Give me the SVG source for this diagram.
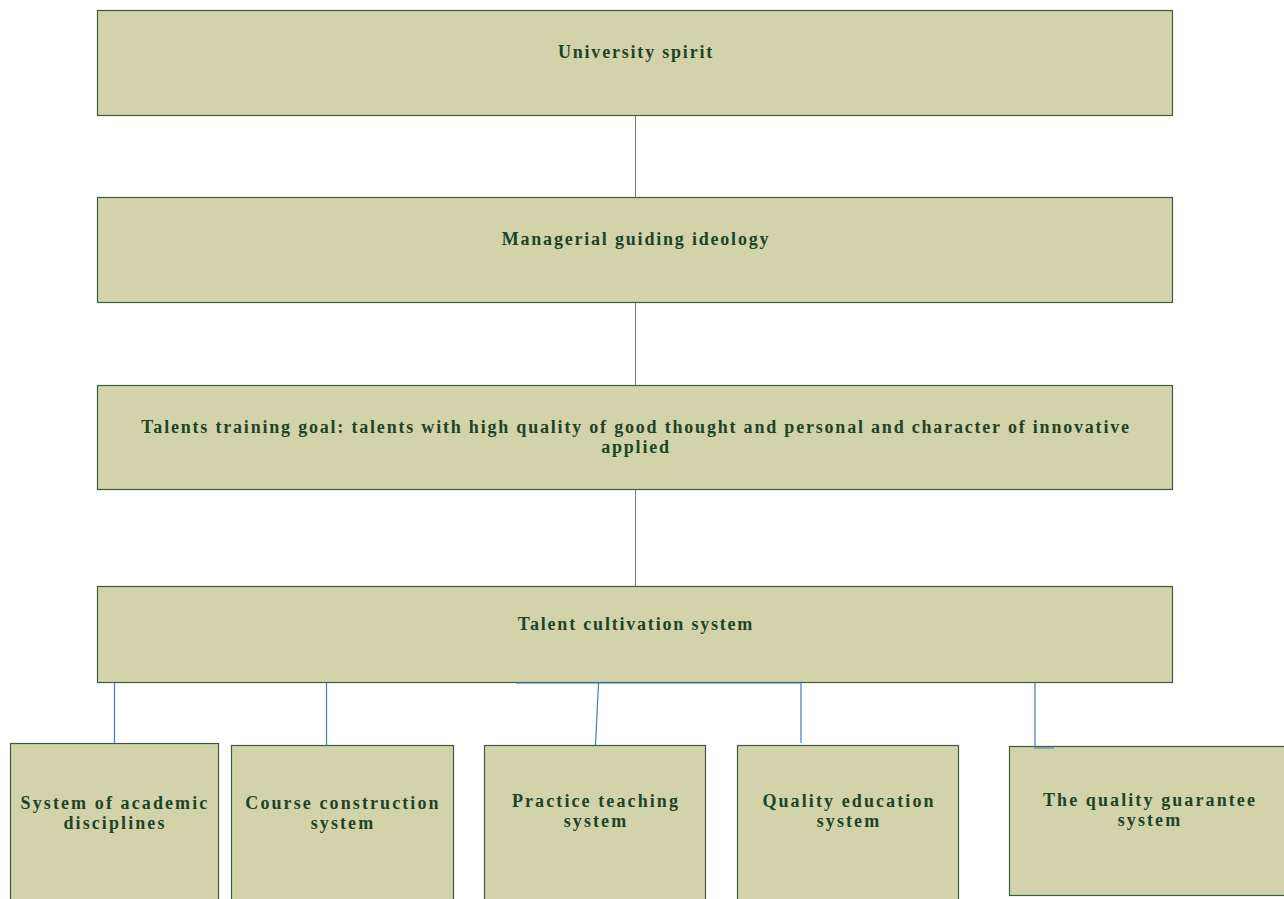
<svg xmlns="http://www.w3.org/2000/svg" width="1284" height="899" viewBox="0 0 1284 899">
<style>
.box{fill:#d2d3ab;stroke:#3d5c3d;stroke-width:1.2}
.t{font-family:"Liberation Serif",serif;font-weight:bold;font-size:18px;fill:#1e4427;text-anchor:middle;letter-spacing:1.8px}
.s{letter-spacing:2.1px}
.g{stroke:#7a7a7a;stroke-width:1;fill:none}
.b{stroke:#4a78c0;stroke-width:1.2;fill:none}
</style>
<rect width="1284" height="899" fill="#ffffff"/>
<g id="n1"><rect class="box" x="97.5" y="10.5" width="1075" height="105"/><text class="t" x="636" y="58">University spirit</text></g>
<g id="n2"><rect class="box" x="97.5" y="197.5" width="1075" height="105"/><text class="t" x="636" y="245">Managerial guiding ideology</text></g>
<g id="n3"><rect class="box" x="97.5" y="385.5" width="1075" height="104"/><text class="t" x="636" y="433">Talents training goal: talents with high quality of good thought and personal and character of innovative</text><text class="t" x="636" y="453">applied</text></g>
<g id="n4"><rect class="box" x="97.5" y="586.5" width="1075" height="96"/><text class="t" x="636" y="630">Talent cultivation system</text></g>
<g id="n5"><rect class="box" x="10.5" y="743.5" width="208" height="160"/><text class="t s" x="115" y="809">System of academic</text><text class="t s" x="115" y="829">disciplines</text></g>
<g id="n6"><rect class="box" x="231.5" y="745.5" width="222" height="160"/><text class="t s" x="343" y="809">Course construction</text><text class="t s" x="343" y="829">system</text></g>
<g id="n7"><rect class="box" x="484.5" y="745.5" width="221" height="160"/><text class="t s" x="596" y="807">Practice teaching</text><text class="t s" x="596" y="827">system</text></g>
<g id="n8"><rect class="box" x="737.5" y="745.5" width="221" height="160"/><text class="t s" x="849" y="807">Quality education</text><text class="t s" x="849" y="827">system</text></g>
<g id="n9"><rect class="box" x="1009.5" y="746.5" width="280" height="149"/><text class="t s" x="1150" y="806">The quality guarantee</text><text class="t s" x="1150" y="826">system</text></g>
<g id="connectors">
<line class="g" x1="635.5" y1="116" x2="635.5" y2="197"/>
<line class="g" x1="635.5" y1="303" x2="635.5" y2="385"/>
<line class="g" x1="635.5" y1="490" x2="635.5" y2="586"/>
<line class="b" x1="114.5" y1="683" x2="114.5" y2="743"/>
<line class="b" x1="326.5" y1="683" x2="326.5" y2="746"/>
<polyline class="b" points="516,683 801,683 801,743"/>
<line class="b" x1="598.5" y1="683" x2="595.5" y2="745"/>
<polyline class="b" points="1035,683 1035,748 1054,748"/>
</g>
</svg>
